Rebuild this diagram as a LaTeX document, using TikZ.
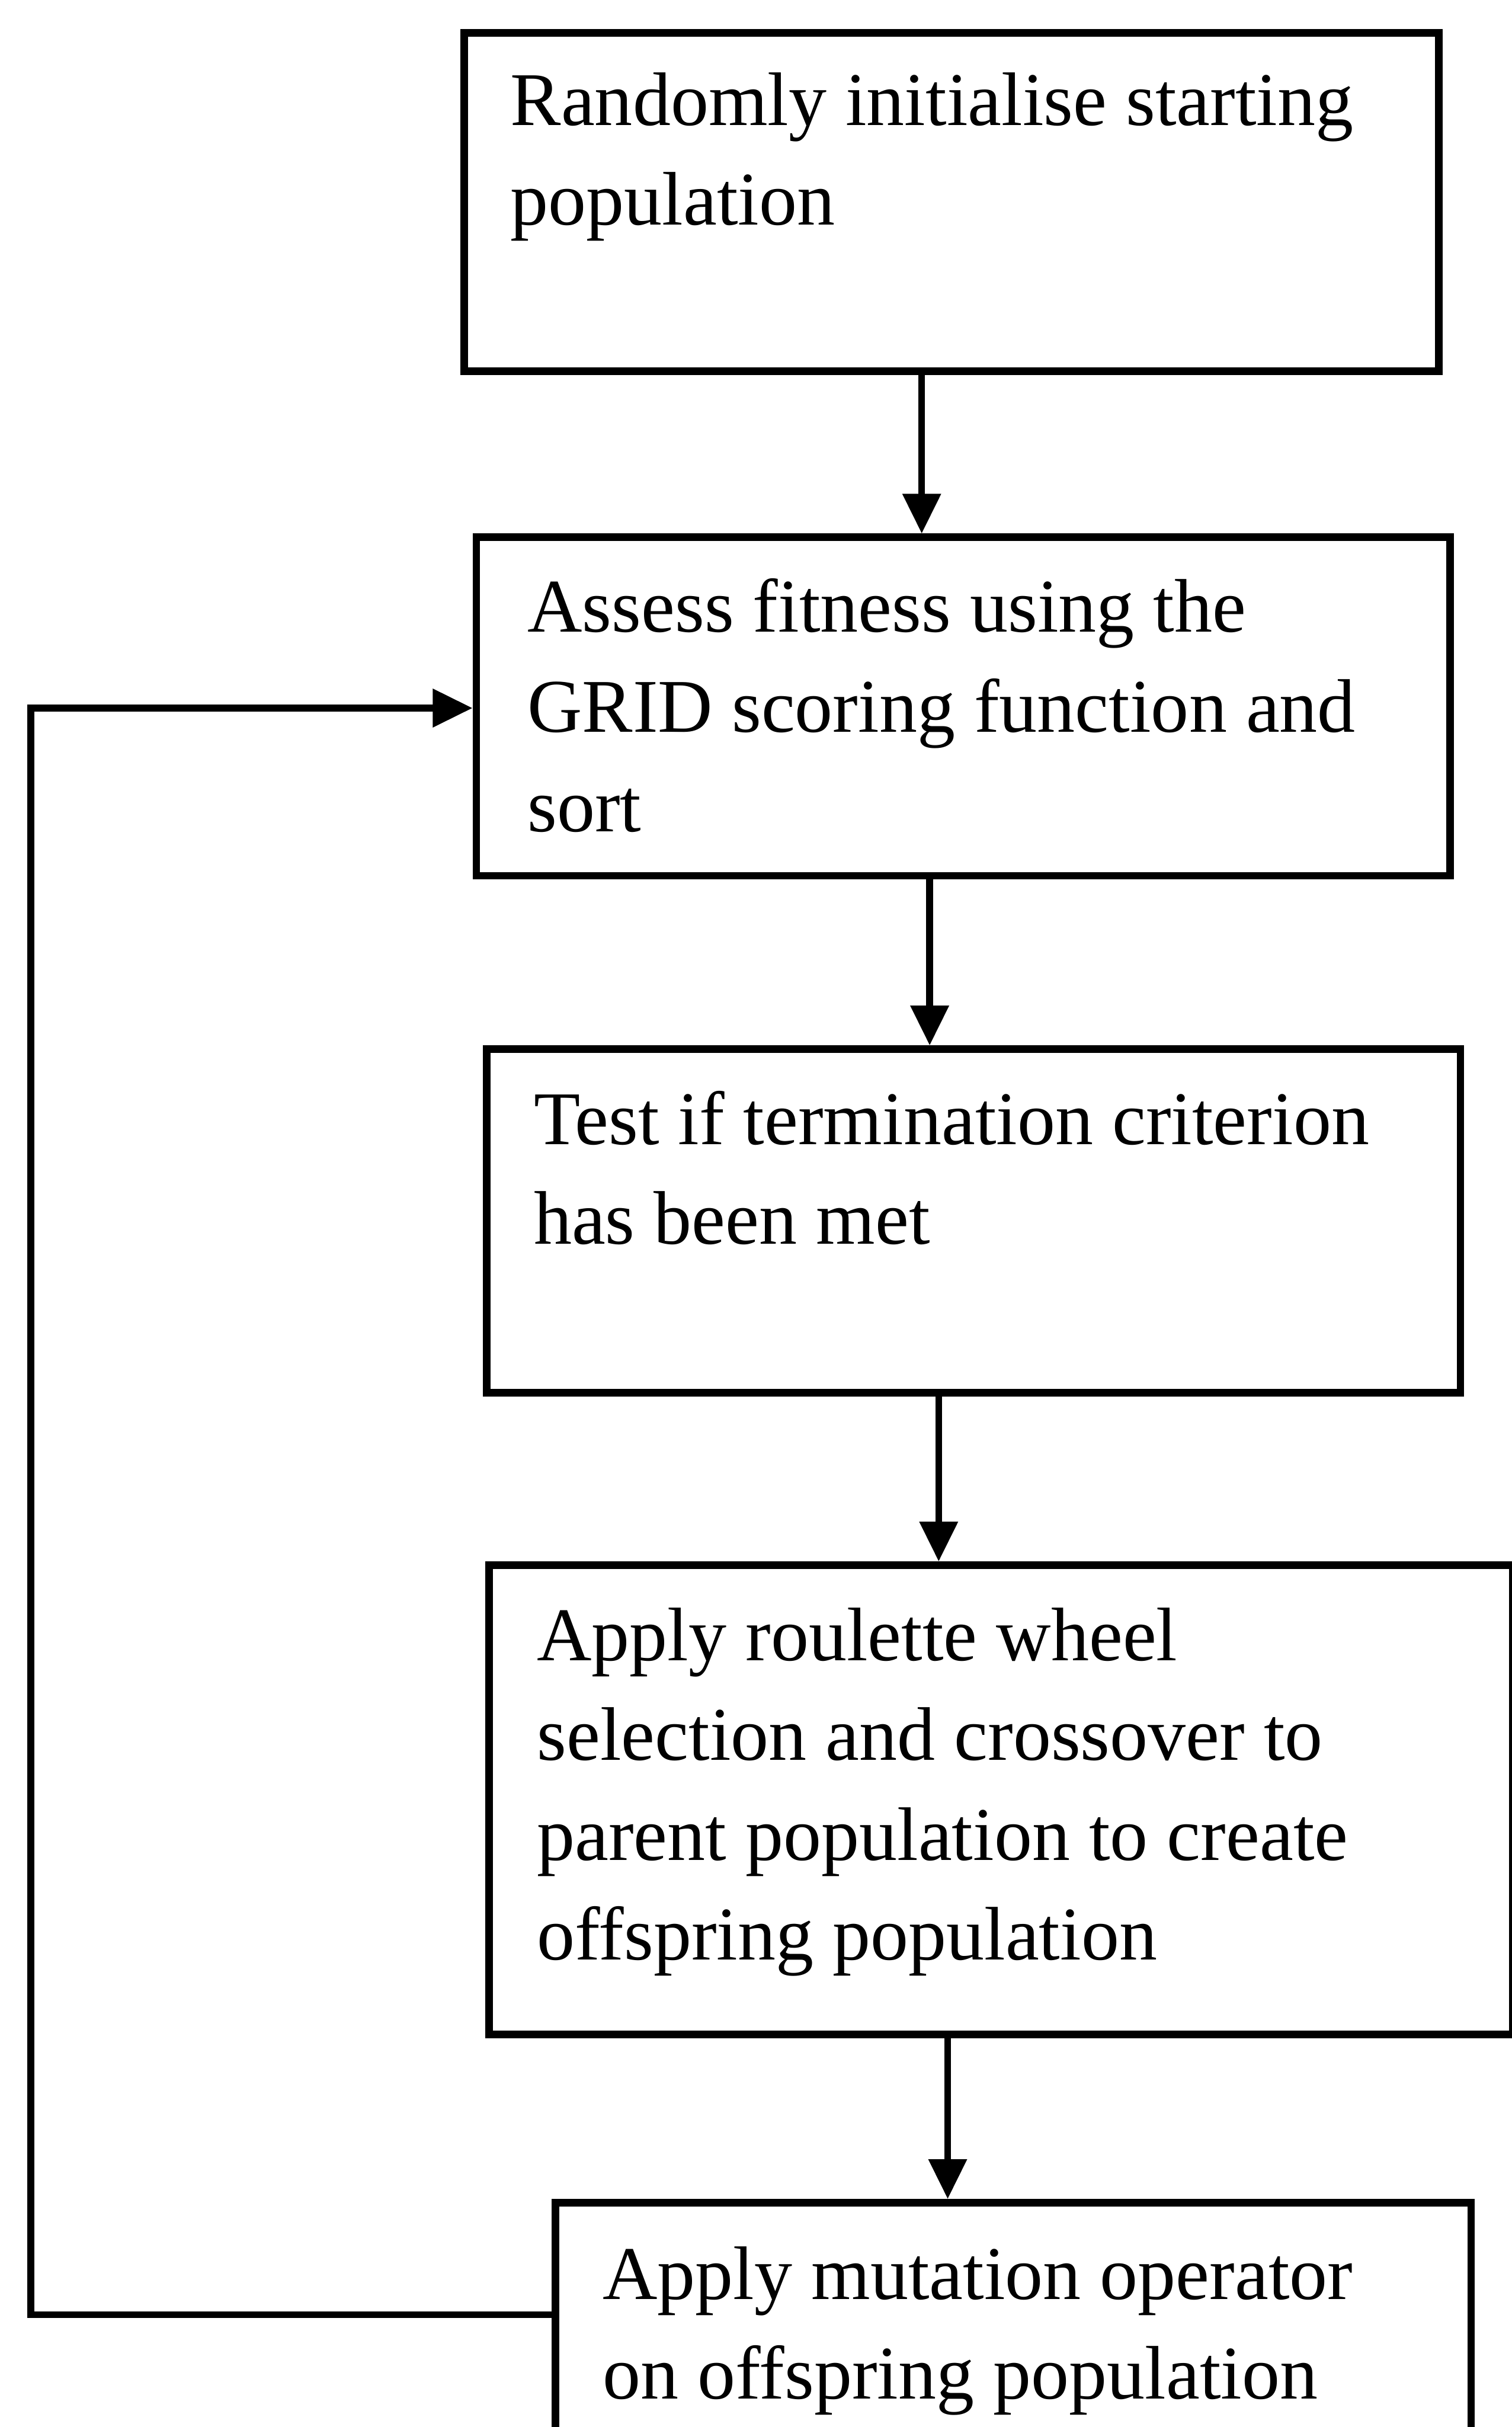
\documentclass[tikz,border=0pt]{standalone}
\usepackage{fontspec}
\setmainfont{Liberation Serif}
\usetikzlibrary{arrows.meta}
\newcommand\tlines[1]{\begin{tabular}[t]{@{}l@{}}#1\end{tabular}}
\begin{document}
\begin{tikzpicture}[
  box/.style={draw=black, line width=4pt, rectangle, inner sep=0pt, anchor=north west},
  txt/.style={inner sep=0pt, anchor=base west, font=\fontsize{40.7pt}{53.5pt}\selectfont},
  conn/.style={draw=black, line width=3.6pt, -{Triangle[length=0.75cm, width=0.7cm]}}
]
\useasboundingbox (0,0) rectangle (28.51,-45.76);
\clip (0,0) rectangle (28.51,-45.76);
\fill[white] (0,0) rectangle (28.51,-45.76);

% boxes
\node (b1) [box, minimum width=18.38cm, minimum height=6.38cm] at (8.68,-0.55) {};
\node (b2) [box, minimum width=18.36cm, minimum height=6.38cm] at (8.91,-10.06) {};
\node (b3) [box, minimum width=18.36cm, minimum height=6.48cm] at (9.11,-19.71) {};
\node (b4) [box, minimum width=19.30cm, minimum height=8.85cm] at (9.15,-29.44) {};
\node (b5) [box, minimum width=17.27cm, minimum height=5.00cm] at (10.40,-41.46) {};

% texts
\node (t1) [txt] at (9.62,-2.36) {\tlines{Randomly initialise starting\\population}};
\node (t2) [txt] at (9.94,-11.92) {\tlines{Assess fitness using the\\GRID scoring function and\\sort}};
\node (t3) [txt] at (10.06,-21.58) {\tlines{Test if termination criterion\\has been met}};
\node (t4) [txt] at (10.12,-31.31) {\tlines{Apply roulette wheel\\selection and crossover to\\parent population to create\\offspring population}};
\node (t5) [txt] at (11.36,-43.35) {\tlines{Apply mutation operator\\on offspring population}};

% arrow x positions
\coordinate (x1) at (17.38,0);
\coordinate (x2) at (17.53,0);
\coordinate (x3) at (17.70,0);
\coordinate (x4) at (17.87,0);

\draw[conn] (b1.south -| x1) -- (b2.north -| x1);
\draw[conn] (b2.south -| x2) -- (b3.north -| x2);
\draw[conn] (b3.south -| x3) -- (b4.north -| x3);
\draw[conn] (b4.south -| x4) -- (b5.north -| x4);

% feedback loop
\coordinate (lb) at (0.58,-43.64);
\coordinate (lt) at (0.58,-13.35);
\draw[conn] (b5.west |- lb) -- (lb) -- (lt) -- (b2.west |- lt);
\end{tikzpicture}
\end{document}
